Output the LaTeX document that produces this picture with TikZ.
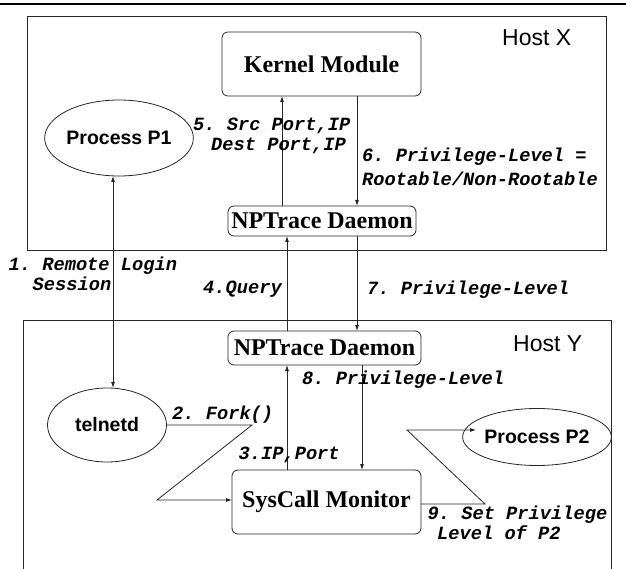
\documentclass[tikz,border=0pt]{standalone}
\usepackage{fontspec}
\setmainfont{Liberation Serif}
\setsansfont{Liberation Sans}
\setmonofont{Liberation Mono}
\usetikzlibrary{arrows.meta,shapes.geometric}
\tikzset{
  x=1pt, y=-1pt,
  line/.style={draw=black!85, line width=0.8pt},
  arr/.style={line, -{Latex[length=6pt,width=4pt]}},
  darr/.style={line, {Latex[length=6pt,width=4pt]}-{Latex[length=6pt,width=4pt]}},
  hostbox/.style={line, inner sep=0pt, outer sep=0pt, anchor=north west},
  modbox/.style={line, rounded corners=6pt, inner sep=0pt, outer sep=0pt,
    font=\rmfamily\bfseries\fontsize{24}{26}\selectfont},
  proc/.style={line, ellipse, inner sep=0pt, outer sep=0pt,
    font=\sffamily\bfseries\fontsize{19.5}{22}\selectfont},
  hostlbl/.style={anchor=base west, inner sep=0pt, font=\sffamily\fontsize{23}{26}\selectfont},
  msg/.style={anchor=base west, inner sep=0pt,
    font=\ttfamily\bfseries\itshape\fontsize{18.7}{20}\selectfont},
}
\begin{document}
\begin{tikzpicture}
\useasboundingbox (0,0) rectangle (626,569);
% top rule
\draw[line width=2.6pt] (0,4) -- (626,4);

% host frames
\node[hostbox, minimum width=579pt, minimum height=234pt] (hostx) at (27,16) {};
\draw[line] (23,569) -- (23,320.5) -- (611,320.5) -- (611,569);
\node[hostlbl] (hxl) at (502,45.5) {Host X};
\node[hostlbl] (hyl) at (513,351) {Host Y};

% modules
\node[modbox, minimum width=199pt, minimum height=64pt] (kern) at (321.5,64) {Kernel Module};
\node[modbox, minimum width=188pt, minimum height=30pt] (npx) at (322,221) {NPTrace Daemon};
\node[modbox, minimum width=193pt, minimum height=34pt] (npy) at (324.5,348) {NPTrace Daemon};
\node[modbox, minimum width=189pt, minimum height=64pt] (sys) at (326.5,502) {SysCall Monitor};

% processes
\node[proc, minimum width=122pt, minimum height=76pt] (p1) at (119,138) {Process P1};
\node[proc, minimum width=119pt, minimum height=74pt] (tel) at (107,425) {telnetd};
\node[proc, minimum width=122pt, minimum height=57pt] (p2) at (537,437) {Process P2};

% bend points
\coordinate (f1) at (252,425);
\coordinate (f2) at (157,500);
\coordinate (s1) at (485,504);
\coordinate (s2) at (407,430);

% connectors
\draw[darr] (p1.south -| 113,0) -- (tel.north -| 113,0);
\draw[arr] (npx.north -| 282,0) -- (kern.south -| 282,0);
\draw[arr] (kern.south -| 357,0) -- (npx.north -| 357,0);
\draw[arr] (npy.north -| 287,0) -- (npx.south -| 287,0);
\draw[arr] (npx.south -| 357,0) -- (npy.north -| 357,0);
\draw[arr] (sys.north -| 287,0) -- (npy.south -| 287,0);
\draw[arr] (npy.south -| 362,0) -- (sys.north -| 362,0);
\draw[arr] (tel.east) -- (f1) -- (f2) -- (sys.west |- f2);
\draw[arr] (sys.east |- s1) -- (s1) -- (s2) -- (476,430);

% messages
\node[msg] (m5a) at (193,131) {5. Src Port,IP};
\node[msg] (m5b) at (211,150.5) {Dest Port,IP};
\node[msg] (m6a) at (362,161.5) {6. Privilege-Level =};
\node[msg] (m6b) at (362,186) {Rootable/Non-Rootable};
\node[msg] (m1a) at (8.5,270.7) {1. Remote Login};
\node[msg] (m1b) at (32.5,290.7) {Session};
\node[msg] (m4) at (203,294) {4.Query};
\node[msg] (m7) at (367,294.5) {7. Privilege-Level};
\node[msg] (m8) at (302,384.5) {8. Privilege-Level};
\node[msg] (m2) at (172,419) {2. Fork()};
\node[msg] (m3) at (238.5,459) {3.IP,Port};
\node[msg] (m9a) at (427.5,519.5) {9. Set Privilege};
\node[msg] (m9b) at (437,539) {Level of P2};
\end{tikzpicture}
\end{document}
